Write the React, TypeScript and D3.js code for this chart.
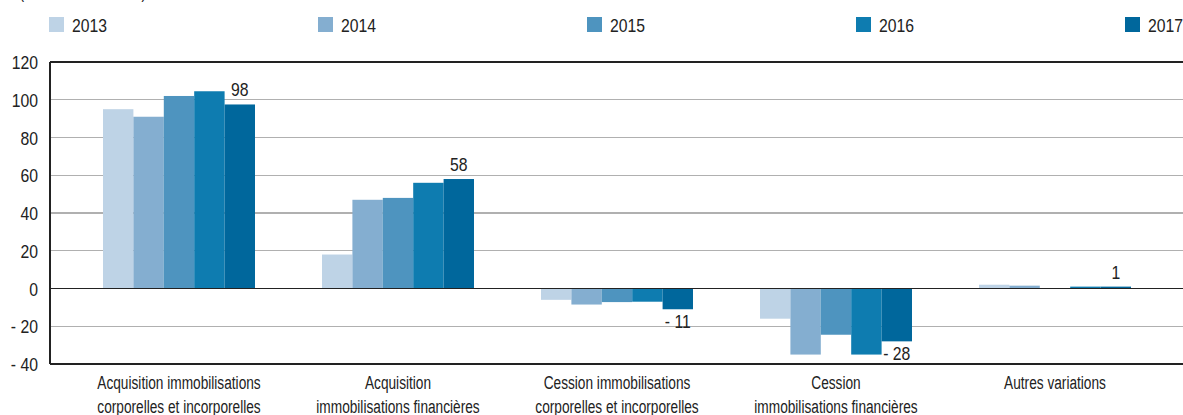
import { useRef, useEffect } from 'react'
import * as d3 from 'd3'

const categories = [
  ['Acquisition immobilisations', 'corporelles et incorporelles'],
  ['Acquisition', 'immobilisations financières'],
  ['Cession immobilisations', 'corporelles et incorporelles'],
  ['Cession', 'immobilisations financières'],
  ['Autres variations'],
]
const years = ['2013', '2014', '2015', '2016', '2017']
const v2013 = [95, 18, -6, -16, 2]
const v2014 = [91, 47, -8.5, -35, 1.5]
const v2015 = [102, 48, -7.2, -24.5, 0]
const v2016 = [104.5, 56, -7, -35, 1]
const v2017 = [97.5, 58, -11, -28, 1]
const labels2017 = ['98', '58', '- 11', '- 28', '1']
const yTicks = [-40, -20, 0, 20, 40, 60, 80, 100, 120]

const series = [v2013, v2014, v2015, v2016, v2017]
const COLORS = ['#bed3e6', '#84aed0', '#4e94bf', '#0e7cb0', '#00679c']
const FONT = "'Liberation Sans', Arial, sans-serif"
const TEXT = '#222'

export default function App() {
  const svgRef = useRef<SVGSVGElement>(null)

  useEffect(() => {
    const W = 1183, H = 415
    const left = 50, top = 62, bottom = 364
    const svg = d3.select(svgRef.current)
    svg.selectAll('*').remove()

    // squeezed text to mimic the condensed face of the original
    const label = (parent: any, x: number, y: number, anchor = 'start', sx = 0.83, size = 19) =>
      parent.append('text')
        .attr('transform', `translate(${x},${y}) scale(${sx},1)`)
        .attr('text-anchor', anchor)
        .attr('font-family', FONT).attr('font-size', size).attr('fill', TEXT)

    const x0 = d3.scaleBand().domain(categories.map((_, i) => String(i)))
      .range([69.5, 1164.5]).paddingInner(0.306).paddingOuter(0.153)
    const x1 = d3.scaleBand().domain(years).range([0, x0.bandwidth()])
    const y = d3.scaleLinear().domain([-40, 120]).range([bottom, top])

    // heading, cut off by the top edge
    label(svg, 146, -2, 'end', 0.72).text("(en milliards d'euros)")

    // legend
    years.forEach((yr, i) => {
      const lx = 49 + i * 269
      svg.append('rect').attr('x', lx).attr('y', 17).attr('width', 15).attr('height', 15).attr('fill', COLORS[i])
      label(svg, lx + 23, 32).text(yr)
    })

    // grid
    svg.append('g').selectAll('line')
      .data(yTicks.filter(d => d !== 0))
      .join('line')
      .attr('x1', left).attr('x2', W)
      .attr('y1', d => y(d)).attr('y2', d => y(d))
      .attr('stroke', d => (d === 120 || d === -40) ? '#222' : '#b0b0b0')
      .attr('stroke-width', 1.2)
      .attr('shape-rendering', 'crispEdges')

    // bars
    const groups = svg.append('g').selectAll('g')
      .data(categories.map((_, ci) => ci))
      .join('g')
      .attr('transform', ci => `translate(${x0(String(ci))},0)`)

    groups.selectAll('rect')
      .data(ci => years.map((yr, si) => ({ yr, v: series[si][ci], si })))
      .join('rect')
      .attr('x', d => x1(d.yr)!)
      .attr('width', x1.bandwidth())
      .attr('y', d => y(Math.max(0, d.v)))
      .attr('height', d => Math.abs(y(d.v) - y(0)))
      .attr('fill', d => COLORS[d.si])

    // zero line on top of bars
    svg.append('line')
      .attr('x1', left).attr('x2', W)
      .attr('y1', y(0)).attr('y2', y(0))
      .attr('stroke', '#222').attr('stroke-width', 1.2)
      .attr('shape-rendering', 'crispEdges')

    // left axis line
    svg.append('line')
      .attr('x1', left).attr('x2', left)
      .attr('y1', top).attr('y2', bottom)
      .attr('stroke', '#222').attr('stroke-width', 1.2)
      .attr('shape-rendering', 'crispEdges')

    // y tick labels
    yTicks.forEach(t => {
      label(svg, 38, y(t) + 7, 'end').text(t < 0 ? `- ${Math.abs(t)}` : String(t))
    })

    // 2017 value labels
    v2017.forEach((v, ci) => {
      const cx = x0(String(ci))! + x1('2017')! + x1.bandwidth() / 2
      label(svg, cx, v >= 0 ? y(v) - 8 : y(v) + 19, 'middle').text(labels2017[ci])
    })

    // category labels
    categories.forEach((lines, ci) => {
      const cx = x0(String(ci))! + x0.bandwidth() / 2
      const t = label(svg, cx, 389, 'middle', 0.72)
      lines.forEach((l, li) => {
        t.append('tspan').attr('x', 0).attr('dy', li === 0 ? 0 : 24).text(l)
      })
    })

    svg.attr('width', W).attr('height', H)
  }, [])

  return (
    <svg
      ref={svgRef}
      width={1183}
      height={415}
      style={{ position: 'absolute', left: 0, top: 0, display: 'block', background: '#fff' }}
    />
  )
}
